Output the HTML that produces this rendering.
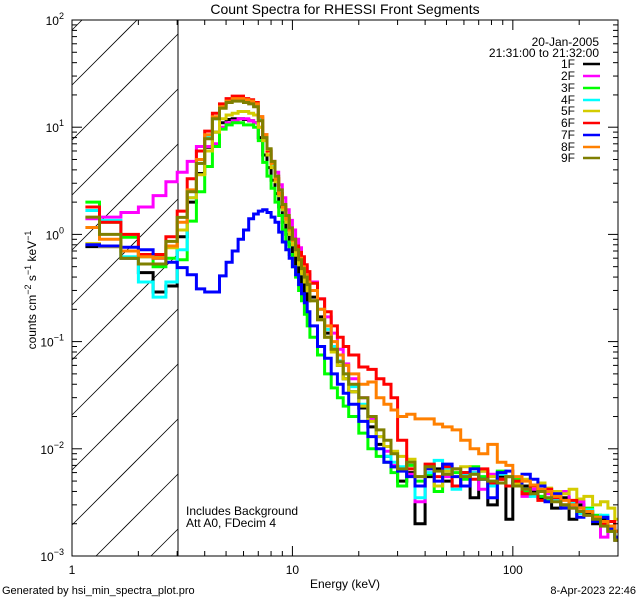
<!DOCTYPE html>
<html><head><meta charset="utf-8">
<style>
html,body{margin:0;padding:0;background:#fff;width:640px;height:600px;overflow:hidden;}
svg{display:block;font-family:"Liberation Sans",sans-serif;}
</style></head>
<body>
<svg id="chart" width="640" height="600" viewBox="0 0 640 600" xmlns="http://www.w3.org/2000/svg">
<defs><clipPath id="plotclip"><rect x="72" y="20" width="546" height="536"/></clipPath></defs>
<rect x="0" y="0" width="640" height="600" fill="#fff"/>
<text x="345" y="14" font-size="14" text-anchor="middle">Count Spectra for RHESSI Front Segments</text>
<g id="hatch"></g>
<line x1="178" y1="20" x2="178" y2="556" stroke="#000" stroke-width="1"/>
<g id="series" clip-path="url(#plotclip)"></g>
<g id="axes"></g>
<text x="186" y="515" font-size="12">Includes Background</text>
<text x="186" y="527" font-size="12">Att A0, FDecim 4</text>
<text x="599" y="46" font-size="12" text-anchor="end">20-Jan-2005</text>
<text x="599" y="57" font-size="12" text-anchor="end">21:31:00 to 21:32:00</text>
<g id="legend"></g>
<text x="345" y="588" font-size="12" text-anchor="middle">Energy (keV)</text>
<text transform="translate(36,290) rotate(-90)" font-size="12" text-anchor="middle">counts cm<tspan font-size="9" dy="-5">−2</tspan><tspan dy="5"> s</tspan><tspan font-size="9" dy="-5">−1</tspan><tspan dy="5"> keV</tspan><tspan font-size="9" dy="-5">−1</tspan></text>
<text x="2" y="594" font-size="11">Generated by hsi_min_spectra_plot.pro</text>
<text x="636" y="594" font-size="11" text-anchor="end">8-Apr-2023 22:46</text>
</svg>
<script>
const energyEdges=[1.15,1.333,1.667,2,2.333,2.667,3,
3.333,3.667,4,4.333,4.667,5,5.333,5.667,6,6.333,6.667,7,7.333,7.667,8,8.333,8.667,9,9.333,9.667,10,10.333,10.667,11,11.333,11.667,
12,13,14,15,16,17,18,20,22,24,26,28,30,33,36,40,44,48,53,58,64,70,77,85,93,100,110,120,130,140,150,165,180,195,210,230,250,270,290,300];
const seriesNames=["1F","2F","3F","4F","5F","6F","7F","8F","9F"];
const seriesColors=["#000000","#ff00ff","#00ff00","#00ffff","#d4cc00","#ff0000","#0000ff","#ff8000","#7f7f00"];
const s1F=[0.77,0.77,0.6,0.44,0.29,0.33,
0.95,2.0,3.7,6.5,9,11,11.8,12,12,11.8,11.5,11,8,5.5,4.2,3.2,2.4,1.8,1.3,1.0,0.8,0.65,0.52,0.42,0.34,0.28,0.24,
0.26,0.17,0.12,0.085,0.06,0.045,0.034,0.024,0.016,0.011,0.0085,0.0068,0.005,0.006,0.002,0.0055,0.0065,0.005,0.0045,0.006,0.0035,0.0062,0.003,0.0055,0.0022,0.005,0.0045,0.004,0.0035,0.0042,0.0028,0.0035,0.0022,0.003,0.0025,0.002,0.0022,0.0017,0.0014];
const s2F=[1.4,1.45,1.6,1.8,2.3,3.1,
3.8,4.8,6.6,6.6,7,10,11,11.5,12,12,11.5,11,10,7.5,6,4.8,3.8,2.9,2.2,1.7,1.35,1.1,0.9,0.75,0.6,0.5,0.42,
0.36,0.25,0.17,0.12,0.085,0.062,0.045,0.03,0.019,0.013,0.0095,0.007,0.0065,0.0058,0.0032,0.007,0.0045,0.0055,0.0065,0.0045,0.006,0.0042,0.0058,0.0052,0.0045,0.0048,0.0036,0.0042,0.0045,0.0038,0.0033,0.004,0.0028,0.0032,0.0026,0.0021,0.0015,0.0019,0.0017];
const s3F=[2.0,1.3,0.94,0.62,0.5,0.6,
0.58,1.33,2.5,4.3,6.6,9.6,10.5,11,11,10.5,10.5,10,7.5,4.7,3.5,2.7,2.0,1.5,1.1,0.85,0.65,0.5,0.4,0.3,0.24,0.18,0.14,
0.11,0.075,0.05,0.037,0.03,0.025,0.02,0.014,0.01,0.0085,0.0075,0.006,0.0045,0.007,0.005,0.0058,0.004,0.0065,0.006,0.0052,0.0068,0.0055,0.005,0.0062,0.0045,0.0052,0.004,0.0046,0.0036,0.0033,0.0038,0.003,0.0032,0.0025,0.0028,0.0024,0.002,0.0017,0.0015];
const s4F=[1.67,1.35,0.62,0.36,0.26,0.36,
0.72,2.2,4.6,8,12,15.5,17.5,18,18,17.5,17,16,12,8.2,6,4.5,3.2,2.3,1.7,1.3,1.0,0.8,0.65,0.52,0.43,0.36,0.31,
0.3,0.2,0.13,0.09,0.066,0.05,0.038,0.026,0.018,0.013,0.0085,0.0075,0.0068,0.0075,0.0035,0.006,0.0078,0.0065,0.0042,0.0058,0.006,0.0052,0.0045,0.0058,0.0055,0.0045,0.0042,0.0036,0.004,0.0035,0.0033,0.0029,0.0032,0.0025,0.0027,0.0022,0.0024,0.0019,0.0017];
const s5F=[0.82,0.77,0.7,0.65,0.62,0.75,
1.1,2.2,3.6,6,9,12,13,13.5,14,14,13.5,13,10,7.5,5.5,4.2,3.1,2.3,1.7,1.3,1.0,0.8,0.64,0.52,0.43,0.36,0.3,
0.24,0.16,0.11,0.08,0.06,0.045,0.034,0.025,0.018,0.013,0.0105,0.0095,0.0085,0.008,0.0055,0.007,0.0045,0.0062,0.0065,0.0068,0.0058,0.0062,0.0055,0.0052,0.0055,0.0048,0.0052,0.0045,0.0048,0.0043,0.004,0.0038,0.0042,0.0034,0.0036,0.003,0.0032,0.0028,0.0022];
const s6F=[1.8,1.3,1.0,0.65,0.65,0.95,
1.65,3.3,6.0,9.2,13.5,16.5,18.5,19.5,19.5,18.5,18,17,12.5,8.5,6.0,4.7,3.3,2.4,1.8,1.4,1.1,0.9,0.78,0.68,0.62,0.52,0.45,
0.35,0.25,0.19,0.14,0.11,0.09,0.075,0.058,0.055,0.045,0.04,0.03,0.012,0.0065,0.0045,0.0072,0.0055,0.0068,0.0045,0.006,0.0052,0.0065,0.0048,0.0052,0.0045,0.005,0.0038,0.0045,0.0033,0.0042,0.0035,0.003,0.0033,0.0028,0.0024,0.0023,0.002,0.0021,0.0017];
const s7F=[0.8,0.78,0.76,0.72,0.6,0.55,
0.49,0.42,0.31,0.29,0.29,0.41,0.55,0.7,0.9,1.1,1.4,1.55,1.65,1.7,1.6,1.45,1.3,1.05,0.85,0.72,0.6,0.5,0.42,0.34,0.28,0.23,0.19,
0.14,0.09,0.07,0.05,0.04,0.033,0.026,0.018,0.013,0.01,0.0075,0.0068,0.0062,0.0055,0.0045,0.0065,0.005,0.0072,0.0055,0.0045,0.0065,0.0052,0.0035,0.006,0.0062,0.0045,0.0058,0.0052,0.0045,0.0032,0.0038,0.0028,0.003,0.0023,0.0026,0.0021,0.0023,0.0018,0.0015];
const s8F=[1.16,0.9,0.7,0.62,0.6,0.78,
1.3,2.6,5.0,8.5,12.5,15.5,17.5,18.5,18.5,18,17.5,16.5,12.5,8.5,6.2,4.6,3.3,2.4,1.8,1.4,1.1,0.88,0.72,0.6,0.5,0.42,0.36,
0.3,0.2,0.14,0.1,0.075,0.06,0.05,0.04,0.042,0.03,0.026,0.023,0.02,0.021,0.019,0.019,0.017,0.016,0.015,0.012,0.01,0.009,0.011,0.0075,0.007,0.0055,0.005,0.0046,0.0042,0.004,0.0036,0.0033,0.003,0.0028,0.0026,0.0023,0.0021,0.0019,0.0017];
const s9F=[1.45,1.0,0.6,0.53,0.53,0.86,
1.44,2.5,4.6,7.8,12,15,17,17.5,17.5,17,16.5,15.5,11.5,8,6.3,4.8,3.5,2.6,1.9,1.5,1.15,0.9,0.72,0.58,0.48,0.4,0.34,
0.24,0.16,0.11,0.085,0.065,0.05,0.04,0.03,0.02,0.015,0.012,0.009,0.0065,0.0075,0.0055,0.0068,0.0062,0.0058,0.0065,0.0055,0.0058,0.0052,0.005,0.0048,0.0055,0.0045,0.0042,0.0038,0.004,0.0035,0.0032,0.003,0.0028,0.0026,0.0024,0.0022,0.0019,0.0017,0.0014];
const seriesValues=[s1F,s2F,s3F,s4F,s5F,s6F,s7F,s8F,s9F];
const xTickLabels=["1","10","100"];
const yTickExps=["0","−1","−2","−3"];

const NS="http://www.w3.org/2000/svg";
const PL=72,PR=618,PT=20,PB=556,HX=178;
const XMIN=0,XMAX=Math.log10(300),YMIN=-3,YMAX=2;
function xs(e){return PL+(Math.log10(e)-XMIN)/(XMAX-XMIN)*(PR-PL);}
function ys(v){return PB-(Math.log10(v)-YMIN)/(YMAX-YMIN)*(PB-PT);}
function mk(tag,attrs,parent){const el=document.createElementNS(NS,tag);for(const k in attrs)el.setAttribute(k,attrs[k]);parent.appendChild(el);return el;}

// hatch lines (slope +1 upward), clipped analytically to the hatched box
const hatch=document.getElementById('hatch');
for(let k=-2;k<12;k++){
  const y0=85+55*k; // y at x=PL
  // param along line: y = y0 - (x-PL)
  let xa=PL, xb=HX;
  // y within [PT,PB]: x >= PL + (y0-PB), x <= PL + (y0-PT)
  xa=Math.max(xa,PL+(y0-PB));
  xb=Math.min(xb,PL+(y0-PT));
  if(xb<=xa)continue;
  const ln=mk('line',{x1:xa,y1:y0-(xa-PL),x2:xb,y2:y0-(xb-PL),stroke:'#000','stroke-width':0.8},hatch);
  
  
}

const sg=document.getElementById('series');
seriesValues.forEach((vals,si)=>{
  let d='';
  for(let i=0;i<vals.length;i++){
    const x0=xs(energyEdges[i]),x1=Math.min(xs(energyEdges[i+1]),PR),y=ys(vals[i]);
    d+=(i===0?'M':'L')+x0.toFixed(1)+','+y.toFixed(1)+'L'+x1.toFixed(1)+','+y.toFixed(1);
  }
  const p=mk('path',{d:d,fill:'none',stroke:seriesColors[si],'stroke-width':3,'stroke-linejoin':'miter'},sg);
  
  
});

const ax=document.getElementById('axes');
const frame=mk('rect',{x:PL,y:PT,width:PR-PL,height:PB-PT,fill:'none',stroke:'#000','stroke-width':1},ax);


for(let dec=0;dec<3;dec++){
  for(let m=1;m<10;m++){
    const e=m*Math.pow(10,dec);if(e>300)break;
    const x=xs(e),L=m===1?10:5;
    const t1=mk('line',{x1:x,y1:PB,x2:x,y2:PB-L,stroke:'#000'},ax);
    
    
    const t2=mk('line',{x1:x,y1:PT,x2:x,y2:PT+L,stroke:'#000'},ax);
    
    
  }
}
xTickLabels.forEach((lab,i)=>{
  const t=mk('text',{x:xs(Math.pow(10,i)),y:574,'font-size':12,'text-anchor':'middle'},ax);
  t.textContent=lab;
  
  
});
for(let dec=-3;dec<2;dec++){
  for(let m=1;m<10;m++){
    const v=m*Math.pow(10,dec);const y=ys(v),L=m===1?10:5;
    const t1=mk('line',{x1:PL,y1:y,x2:PL+L,y2:y,stroke:'#000'},ax);
    
    
    const t2=mk('line',{x1:PR,y1:y,x2:PR-L,y2:y,stroke:'#000'},ax);
    
    
  }
}
const yLabs=["2","1"].concat(yTickExps);
yLabs.forEach((ex,i)=>{
  const val=2-i;
  const t=mk('text',{x:64,y:ys(Math.pow(10,val))+5,'font-size':12,'text-anchor':'end'},ax);
  t.innerHTML='10<tspan font-size="9" dy="-6">'+ex+'</tspan>';
  
  
});

const lg=document.getElementById('legend');
const rowY=[64,76,88,100,111,123,135,147,158];
seriesNames.forEach((n,i)=>{
  const t=mk('text',{x:575,y:rowY[i]+4,'font-size':12,'text-anchor':'end'},lg);
  t.textContent=n;
  
  
  const l=mk('line',{x1:583,y1:rowY[i],x2:600,y2:rowY[i],stroke:seriesColors[i],'stroke-width':2.5},lg);
  
  
});
</script>
</body></html>
